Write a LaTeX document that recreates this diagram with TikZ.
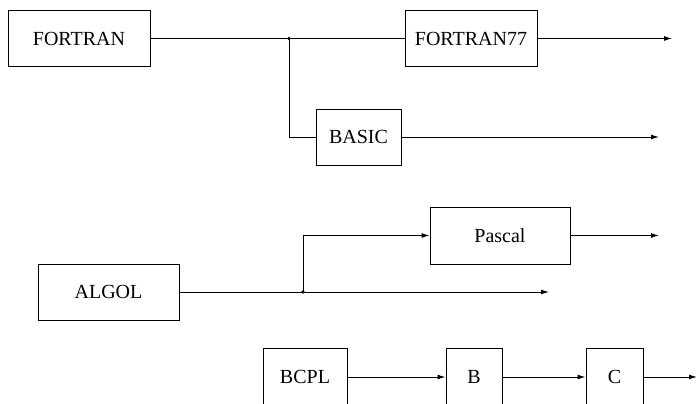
\documentclass[tikz,border=0pt]{standalone}
\usepackage{fontspec}
\setmainfont{Liberation Serif}
\usetikzlibrary{
    positioning,   % right=of
    arrows.meta    % Latex tips
}
\tikzset{
    lang/.style={
        rectangle, draw, line width=1pt,
        minimum height=56pt, inner sep=2pt,
        font=\fontsize{20}{22}\selectfont
    },
    wire/.style={line width=1pt},
    arrow/.style={
        -{Latex[length=8pt,width=5pt]}, line width=1pt
    }
}

\begin{document}
\begin{tikzpicture}[x=1pt,y=1pt]
    \useasboundingbox (0,0) rectangle (696,-404);
    \clip (0,0) rectangle (696,-404);

    % --- FORTRAN family ---
    \node[lang, minimum width=142pt] (fortran) at (79,-38.5) {FORTRAN};
    \node[lang, minimum width=132pt, right=254pt of fortran] (fortran77) {FORTRAN77};
    \node[lang, minimum width=85pt] (basic) at (358.5,-137) {BASIC};

    % --- ALGOL family ---
    \node[lang, minimum width=141pt] (algol) at (108.5,-292) {ALGOL};
    \node[lang, minimum width=140pt, minimum height=57pt] (pascal) at (500,-235.5) {Pascal};

    % --- BCPL family ---
    \node[lang, minimum width=84pt, minimum height=58pt] (bcpl) at (305,-377) {BCPL};
    \node[lang, minimum width=56pt, minimum height=58pt, right=98pt of bcpl] (b) {B};
    \node[lang, minimum width=57pt, minimum height=58pt, right=83pt of b] (c) {C};

    % Puntos de derivacion y extremos libres
    \coordinate (fjunc) at (289,-38.5);
    \coordinate (ajunc) at (303,-292);
    \coordinate (f77end) at (672,-38.5);
    \coordinate (basicend) at (659,-137);
    \coordinate (pascalend) at (659,-235.5);
    \coordinate (algolend) at (549,-292);
    \coordinate (cend) at (697,-377);

    % --- Conexiones ---
    \draw[wire] (fortran) -- (fortran77);
    \fill (fjunc) circle (1.8pt);
    \draw[wire] (fjunc) |- (basic.west);
    \draw[arrow] (fortran77) -- (f77end);
    \draw[arrow] (basic) -- (basicend);

    \draw[arrow] (algol) -- (algolend);
    \fill (ajunc) circle (1.8pt);
    \draw[arrow] (ajunc) |- (pascal.west);
    \draw[arrow] (pascal) -- (pascalend);

    \draw[arrow] (bcpl) -- (b);
    \draw[arrow] (b) -- (c);
    \draw[arrow] (c) -- (cend);
\end{tikzpicture}
\end{document}
